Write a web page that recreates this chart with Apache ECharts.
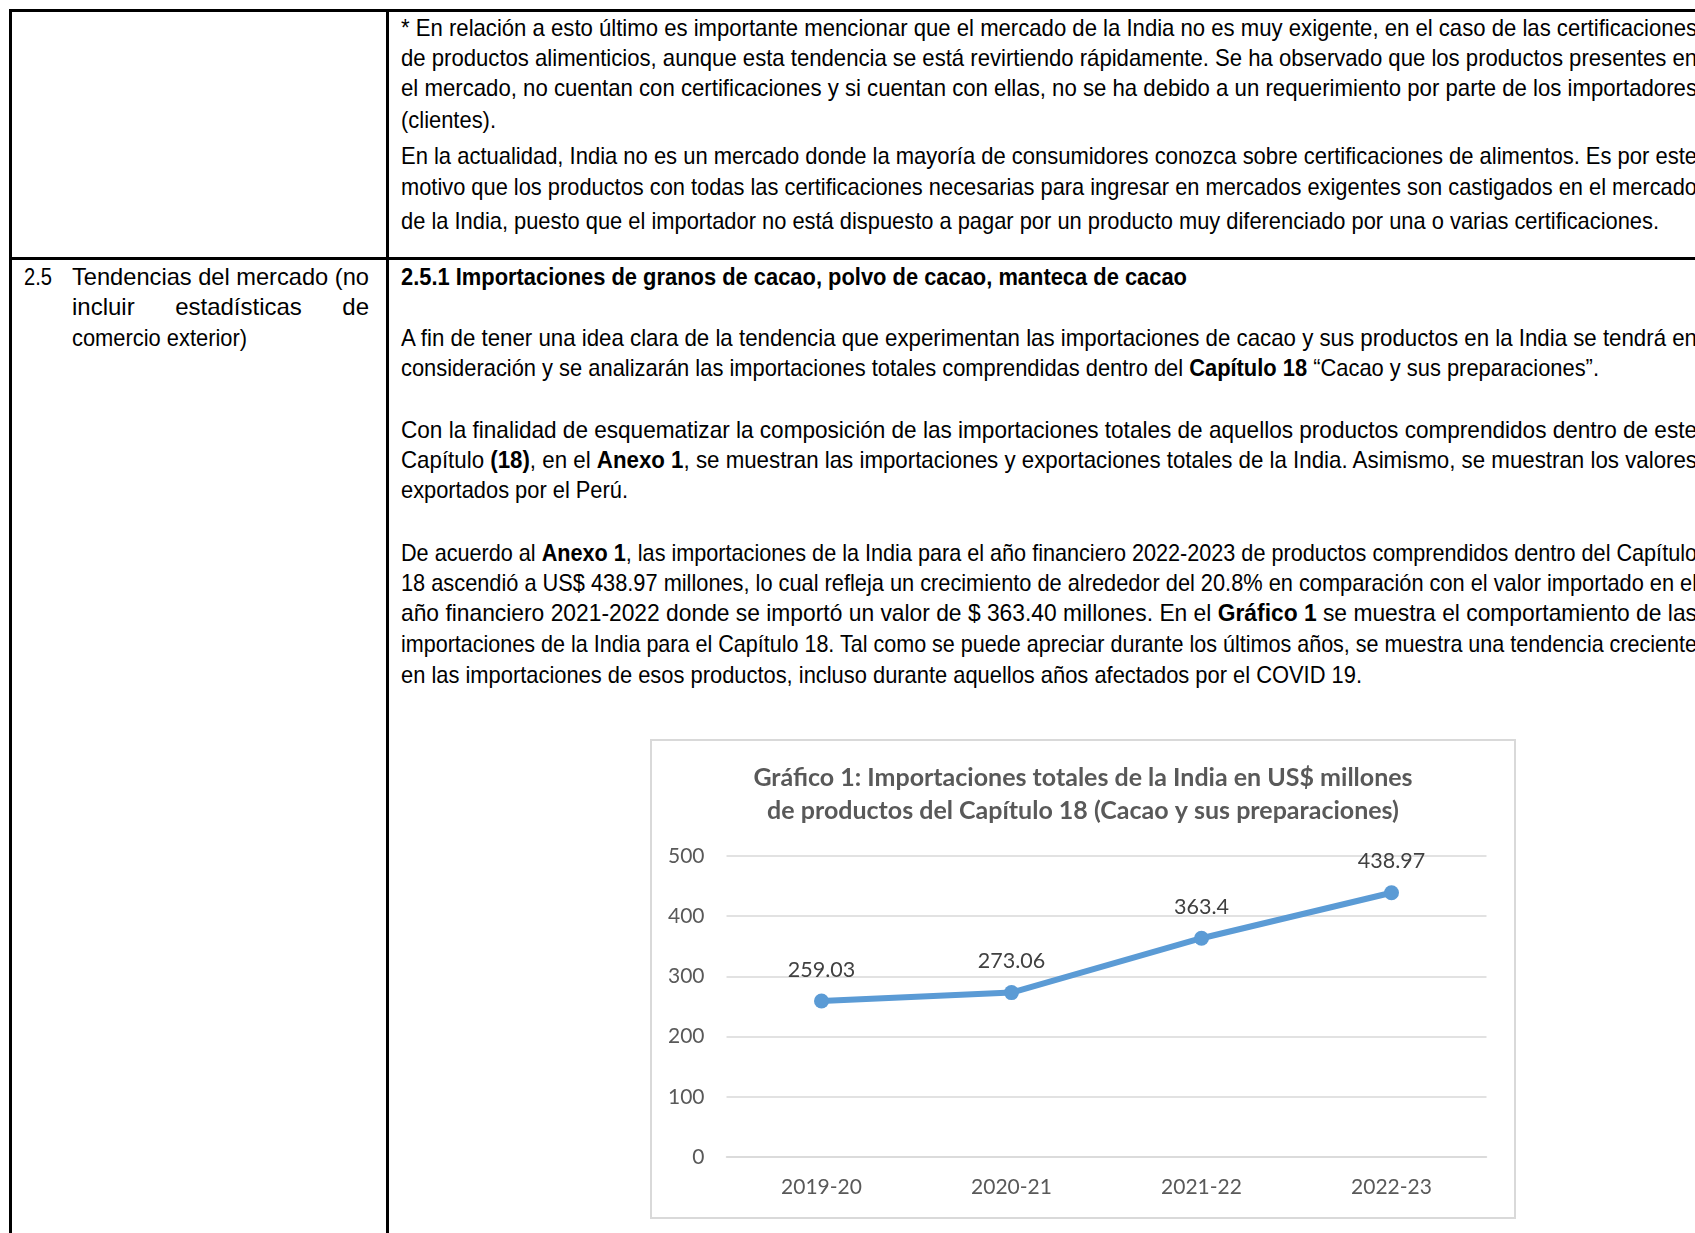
<!DOCTYPE html>
<html><head><meta charset="utf-8">
<script src="https://cdn.jsdelivr.net/npm/echarts@6/dist/echarts.min.js"></script>
<style>
html,body{margin:0;padding:0;background:#fff;}
body{width:1695px;height:1233px;overflow:hidden;position:relative;font-family:"Liberation Sans Narrow","Arial Narrow","Liberation Sans",Arial,sans-serif;color:#000;}
.ln{position:absolute;height:30px;line-height:30px;white-space:nowrap;font-size:24px;}
.ln span.t{display:inline-block;transform-origin:0 50%;}
.rule{position:absolute;background:#000;}
#chart{position:absolute;left:650px;top:739px;width:866px;height:480px;}
#frame{position:absolute;left:650px;top:739px;width:866px;height:480px;box-sizing:border-box;border:2px solid #d9d9d9;pointer-events:none;}
</style></head>
<body>
<div class="rule" style="left:9px;top:9px;width:1700px;height:3px"></div>
<div class="rule" style="left:9px;top:9px;width:3px;height:1230px"></div>
<div class="rule" style="left:386px;top:9px;width:3px;height:1230px"></div>
<div class="rule" style="left:9px;top:257px;width:1700px;height:3px"></div>
<div id="chart"></div>
<div id="frame"></div>
<script>
// ---- chart data ----
const categories = ['2019-20', '2020-21', '2021-22', '2022-23'];
const importValues = [259.03, 273.06, 363.4, 438.97];
const yTicks = [0, 100, 200, 300, 400, 500];
const chartTitle = 'Gráfico 1: Importaciones totales de la India en US$ millones\nde productos del Capítulo 18 (Cacao y sus preparaciones)';

// ---- document text lines: [html, mode] ----
const row1Lines = [
  ['* En relación a esto último es importante mencionar que el mercado de la India no es muy exigente, en el caso de las certificaciones', 'j'],
  ['de productos alimenticios, aunque esta tendencia se está revirtiendo rápidamente. Se ha observado que los productos presentes en', 'j'],
  ['el mercado, no cuentan con certificaciones y si cuentan con ellas, no se ha debido a un requerimiento por parte de los importadores', 'j'],
  ['(clientes).', 'l'],
  ['En la actualidad, India no es un mercado donde la mayoría de consumidores conozca sobre certificaciones de alimentos. Es por este', 'j'],
  ['motivo que los productos con todas las certificaciones necesarias para ingresar en mercados exigentes son castigados en el mercado', 'j'],
  ['de la India, puesto que el importador no está dispuesto a pagar por un producto muy diferenciado por una o varias certificaciones.', 'l']
];
const row2Lines = [
  ['<b>2.5.1 Importaciones de granos de cacao, polvo de cacao, manteca de cacao</b>', 'l'],
  ['A fin de tener una idea clara de la tendencia que experimentan las importaciones de cacao y sus productos en la India se tendrá en', 'j'],
  ['consideración y se analizarán las importaciones totales comprendidas dentro del <b>Capítulo 18</b> “Cacao y sus preparaciones”.', 'l'],
  ['Con la finalidad de esquematizar la composición de las importaciones totales de aquellos productos comprendidos dentro de este', 'j'],
  ['Capítulo <b>(18)</b>, en el <b>Anexo 1</b>, se muestran las importaciones y exportaciones totales de la India. Asimismo, se muestran los valores', 'j'],
  ['exportados por el Perú.', 'l'],
  ['De acuerdo al <b>Anexo 1</b>, las importaciones de la India para el año financiero 2022-2023 de productos comprendidos dentro del Capítulo', 'j'],
  ['18 ascendió a US$ 438.97 millones, lo cual refleja un crecimiento de alrededor del 20.8% en comparación con el valor importado en el', 'j'],
  ['año financiero 2021-2022 donde se importó un valor de $ 363.40 millones. En el <b>Gráfico 1</b> se muestra el comportamiento de las', 'j'],
  ['importaciones de la India para el Capítulo 18. Tal como se puede apreciar durante los últimos años, se muestra una tendencia creciente', 'j'],
  ['en las importaciones de esos productos, incluso durante aquellos años afectados por el COVID 19.', 'l']
];
const leftLines = [
  ['2.5', 'l'],
  ['Tendencias del mercado (no', 'j'],
  ['incluir estadísticas de', 'j'],
  ['comercio exterior)', 'l']
];

// layout (positions kept separate from text)
const row1Y = [28, 58, 88, 120, 156, 187, 221];
const row1End = [1697, 1697, 1697, 496, 1697, 1697, 1659];
const row2Y = [277, 338, 368, 430, 460, 490, 553, 583, 613, 644, 675];
const row2End = [1187, 1697, 1599, 1697, 1697, 628, 1697, 1697, 1697, 1697, 1362];
const leftX = [24, 72, 72, 72];
const leftEnd = [52, 369, 369, 247];
const leftY = [277, 277, 307, 338];

function place(html, mode, x0, x1, cy) {
  const d = document.createElement('div');
  d.className = 'ln';
  d.style.left = x0 + 'px';
  d.style.top = (cy - 15) + 'px';
  const s = document.createElement('span');
  s.className = 't';
  s.innerHTML = html;
  d.appendChild(s);
  document.body.appendChild(d);
  const w = s.getBoundingClientRect().width;
  const target = x1 - x0;
  const spaces = (s.textContent.match(/ /g) || []).length;
  if (mode === 'j' && w < target && spaces > 0) {
    s.style.wordSpacing = ((target - w) / spaces) + 'px';
  } else {
    let k = target / w;
    k = Math.max(0.8, Math.min(1.2, k));
    s.style.transform = 'scaleX(' + k + ')';
  }
}
const TX = 401;
row1Lines.forEach((l, i) => place(l[0], l[1], TX, row1End[i], row1Y[i]));
row2Lines.forEach((l, i) => place(l[0], l[1], TX, row2End[i], row2Y[i]));
leftLines.forEach((l, i) => place(l[0], l[1], leftX[i], leftEnd[i], leftY[i]));

// ---- chart ----
const chart = echarts.init(document.getElementById('chart'));
const gray = '#d9d9d9';
chart.setOption({
  animation: false,
  title: {
    text: chartTitle,
    left: 'center',
    top: 17,
    textStyle: { fontFamily: 'Lato', fontWeight: 'bold', fontSize: 25, color: '#595959', lineHeight: 33 }
  },
  grid: { left: 76.5, top: 117, width: 760, height: 301 },
  xAxis: {
    type: 'category',
    data: categories,
    boundaryGap: true,
    axisLine: { lineStyle: { color: gray, width: 1.5 } },
    axisTick: { show: false },
    axisLabel: { color: '#595959', fontFamily: 'Lato', fontSize: 21, margin: 20 }
  },
  yAxis: {
    type: 'value',
    min: yTicks[0],
    max: yTicks[yTicks.length - 1],
    interval: yTicks[1] - yTicks[0],
    axisLine: { show: false },
    axisTick: { show: false },
    splitLine: { lineStyle: { color: gray, width: 1.5 } },
    axisLabel: { color: '#595959', fontFamily: 'Lato', fontSize: 21, margin: 22 }
  },
  series: [{
    type: 'line',
    data: importValues,
    color: '#5B9BD5',
    lineStyle: { width: 6, color: '#5B9BD5' },
    symbol: 'circle',
    symbolSize: 15,
    itemStyle: { color: '#5B9BD5' },
    label: { show: true, position: 'top', distance: 13, color: '#404040', fontFamily: 'Lato', fontSize: 21.5 }
  }]
});
</script>
</body></html>
